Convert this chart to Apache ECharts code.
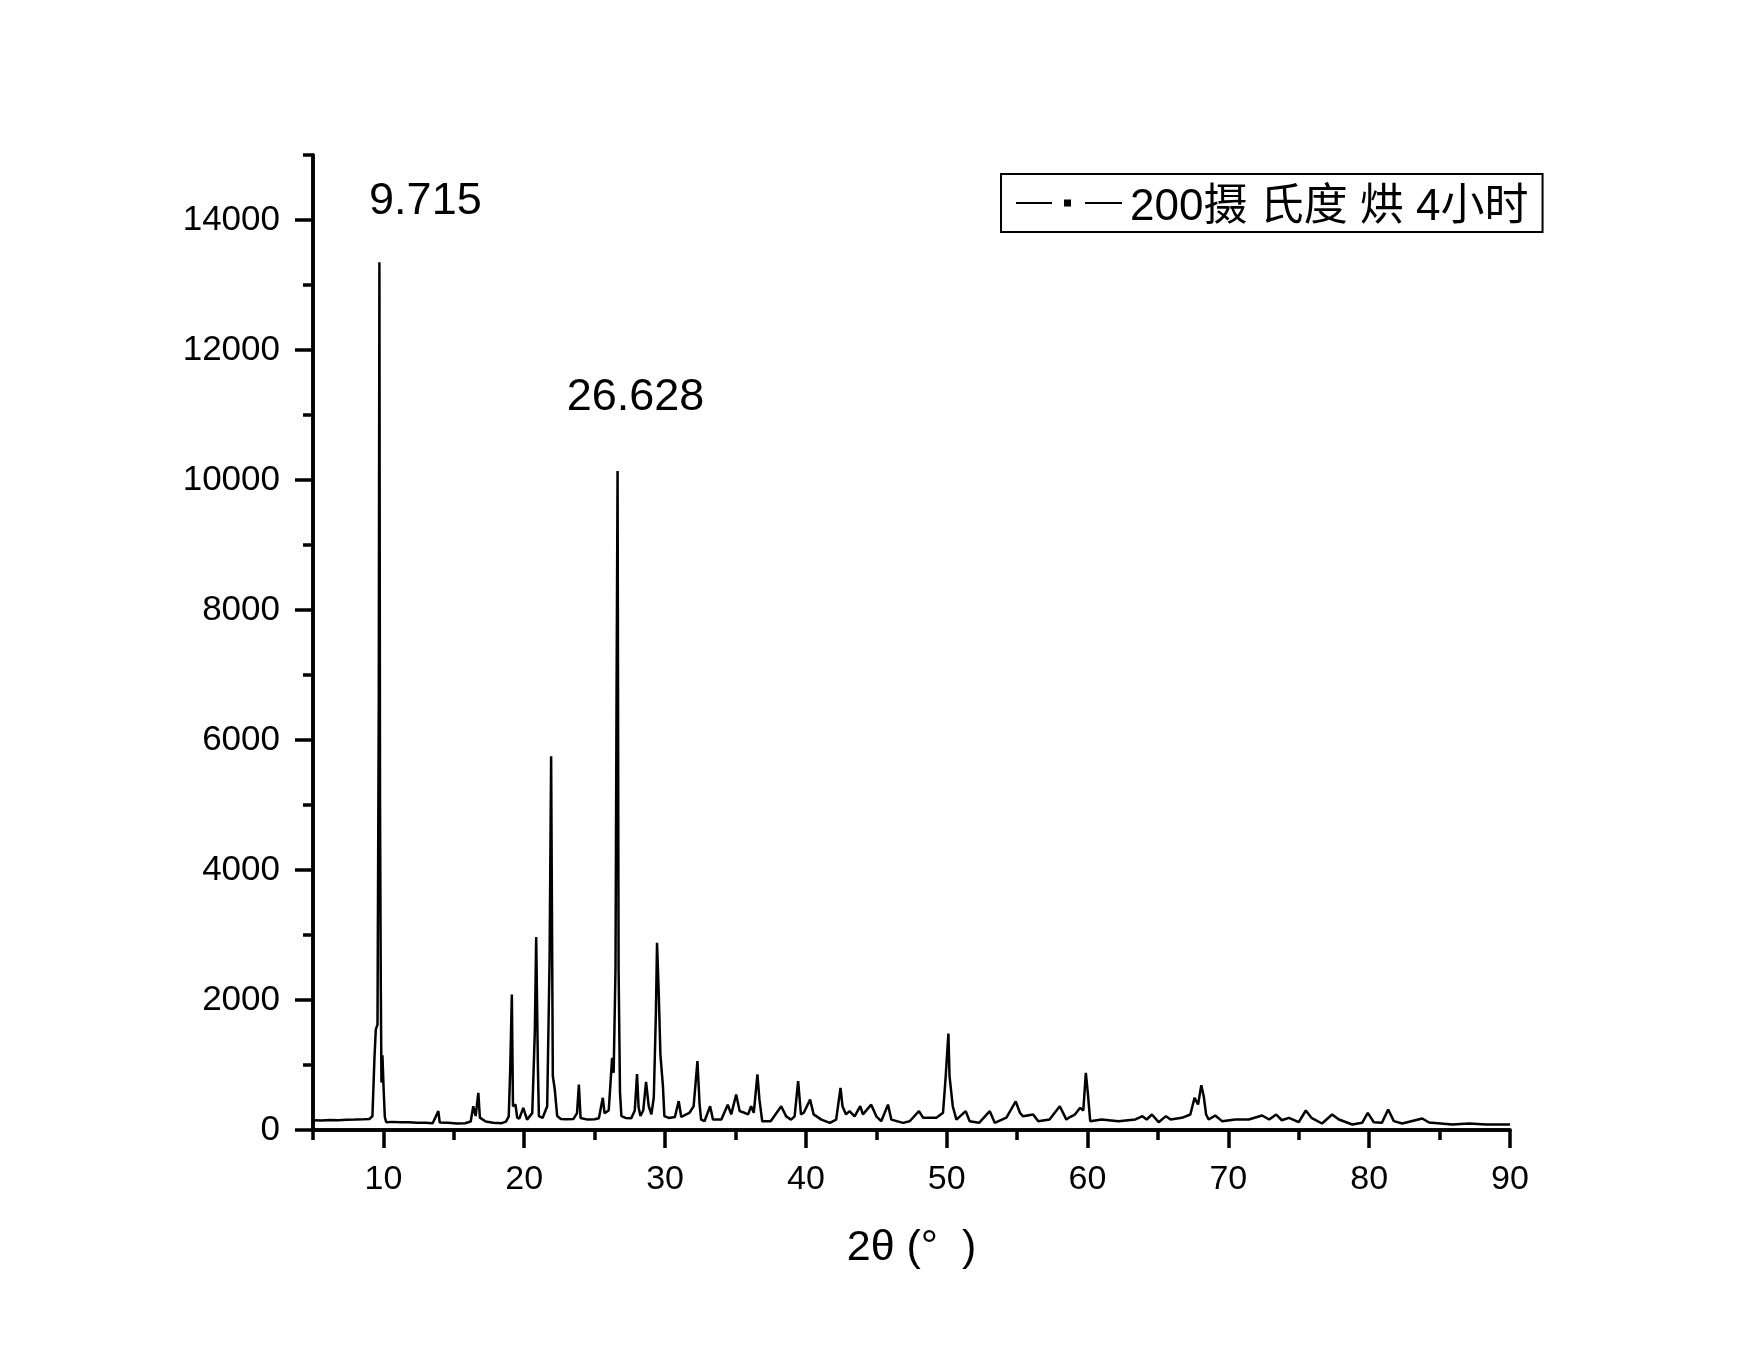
<!DOCTYPE html>
<html>
<head>
<meta charset="utf-8">
<title>XRD 200摄氏度烘4小时</title>
<script src="https://cdn.jsdelivr.net/npm/echarts@6.0.0/dist/echarts.min.js"></script>
<style>
  html, body { margin: 0; padding: 0; background: #fff; }
  #chart { width: 1755px; height: 1356px; }
</style>
</head>
<body>
<div id="chart"></div>
<script>
// [2θ (°), intensity]
const scan = [
  [5.0, 150], [5.6, 148], [6.2, 155], [6.8, 150], [7.4, 158], [8.0, 160], [8.6, 165], [9.0, 170],
  [9.22, 212], [9.36, 1085], [9.46, 1546], [9.58, 1620], [9.67, 6600], [9.715, 13350], [9.76, 5000],
  [9.81, 2370], [9.86, 730], [9.93, 1150], [9.97, 1150], [10.02, 600], [10.1, 200], [10.2, 120],
  [10.6, 125], [11.2, 118], [11.8, 120], [12.4, 112], [13.0, 110], [13.5, 105], [13.9, 290], [14.0, 115],
  [14.6, 110], [15.2, 100], [15.8, 105], [16.2, 130], [16.38, 366], [16.55, 215], [16.74, 572], [16.85, 190],
  [17.26, 130], [17.8, 110], [18.4, 105], [18.7, 130], [18.9, 210], [19.0, 900], [19.12, 2085], [19.2, 366],
  [19.38, 390], [19.5, 190], [19.65, 175], [19.93, 340], [20.2, 160], [20.57, 260], [20.75, 1500], [20.85, 2970],
  [20.97, 980], [21.04, 215], [21.3, 185], [21.63, 366], [21.8, 2623], [21.91, 5750], [22.03, 830], [22.17, 620],
  [22.34, 215], [22.6, 170], [23.0, 165], [23.5, 170], [23.75, 260], [23.88, 700], [24.0, 185], [24.5, 160],
  [25.0, 165], [25.3, 180], [25.58, 495], [25.7, 260], [26.0, 300], [26.24, 1110], [26.35, 880], [26.48, 2470],
  [26.55, 6400], [26.628, 10140], [26.7, 2470], [26.8, 570], [26.9, 215], [27.2, 185], [27.6, 180], [27.85, 300],
  [28.01, 860], [28.12, 350], [28.25, 215], [28.45, 300], [28.65, 740], [28.84, 366], [29.03, 240], [29.2, 500],
  [29.35, 1800], [29.43, 2880], [29.55, 2110], [29.67, 1160], [29.8, 1150], [29.85, 670], [29.95, 215], [30.26, 185],
  [30.7, 200], [30.97, 445], [31.15, 200], [31.5, 240], [31.73, 264], [32.03, 366], [32.3, 1060], [32.45, 400],
  [32.56, 160], [32.8, 135], [33.2, 366], [33.4, 160], [34.0, 160], [34.45, 390], [34.7, 240], [35.05, 546],
  [35.3, 290], [35.64, 265], [35.9, 240], [36.11, 366], [36.3, 265], [36.56, 854], [36.7, 470], [36.9, 135],
  [37.5, 135], [38.25, 366], [38.6, 210], [38.95, 160], [39.2, 210], [39.45, 751], [39.65, 240], [39.85, 265],
  [40.3, 467], [40.55, 240], [41.1, 160], [41.7, 110], [42.15, 160], [42.46, 649], [42.6, 366], [42.85, 240],
  [43.1, 290], [43.46, 210], [43.86, 366], [44.05, 240], [44.64, 390], [45.0, 210], [45.35, 135], [45.83, 390],
  [46.07, 160], [46.9, 110], [47.37, 135], [48.03, 290], [48.32, 190], [49.27, 190], [49.74, 265], [49.93, 828],
  [50.12, 1485], [50.2, 828], [50.43, 366], [50.69, 160], [51.35, 290], [51.63, 135], [52.3, 110], [53.06, 290],
  [53.41, 110], [54.24, 190], [54.9, 440], [55.2, 265], [55.42, 210], [56.14, 240], [56.5, 135], [57.3, 160],
  [58.03, 366], [58.5, 160], [58.65, 187], [59.1, 238], [59.48, 341], [59.7, 300], [59.88, 880], [60.02, 572],
  [60.19, 136], [61.0, 162], [62.2, 136], [63.4, 162], [63.9, 213], [64.2, 162], [64.57, 238], [65.05, 120],
  [65.57, 213], [65.9, 162], [66.7, 187], [67.3, 238], [67.6, 495], [67.85, 392], [68.08, 690], [68.25, 520],
  [68.42, 238], [68.6, 162], [69.07, 223], [69.55, 136], [70.5, 162], [71.45, 162], [72.4, 223], [72.9, 162],
  [73.4, 238], [73.8, 150], [74.3, 187], [75.0, 120], [75.5, 300], [75.9, 187], [76.65, 100], [77.37, 238],
  [77.85, 162], [78.8, 85], [79.5, 110], [79.9, 264], [80.33, 120], [80.9, 110], [81.35, 315], [81.75, 136],
  [82.35, 100], [83.77, 177], [84.25, 115], [85.9, 85], [87.1, 100], [88.3, 85], [90.0, 85]
];

const majorX = [10, 20, 30, 40, 50, 60, 70, 80, 90];
const minorX = [5, 15, 25, 35, 45, 55, 65, 75, 85];
const majorY = [0, 2000, 4000, 6000, 8000, 10000, 12000, 14000];
const minorY = [1000, 3000, 5000, 7000, 9000, 11000, 13000, 15000];

const peaks = [
  {angle: 9.715, intensity: 13350, text: '9.715'},
  {angle: 26.628, intensity: 10140, text: '26.628'}
];

const seriesName = '200摄 氏度 烘 4小时';
const font = "'Liberation Sans', Arial, 'Noto Sans CJK SC', sans-serif";
const black = '#000';

// line - square - line; the lone point at y=17 only pads the icon box so the text sits a little lower
const legendIcon = 'path://M0,2.5H36V4.5H0Z M48,0H55V7H48Z M69,2.5H106V4.5H69Z M53,17L53,17';

const chart = echarts.init(document.getElementById('chart'));

const baseX = {
  type: 'value', min: 5, max: 90, position: 'bottom',
  axisLine: {show: true, onZero: false, lineStyle: {color: black, width: 3.5}},
  splitLine: {show: false}
};
const baseY = {
  type: 'value', min: 0, max: 15000, position: 'left',
  axisLine: {show: true, onZero: false, lineStyle: {color: black, width: 3.5}},
  splitLine: {show: false}
};

const option = {
  animation: false,
  backgroundColor: '#fff',
  textStyle: {fontFamily: font, color: black},
  grid: {left: 313, right: 245, top: 155, bottom: 226, containLabel: false, outerBoundsMode: 'none'},
  legend: {
    left: 1001, top: 174,
    borderColor: black, borderWidth: 2,
    padding: [12, 14, 2, 15],
    itemWidth: 106, itemHeight: 17,
    textStyle: {fontSize: 44, color: black, fontFamily: font, padding: [0, 0, 0, 3]},
    data: [{name: seriesName, icon: legendIcon}]
  },
  xAxis: [
    Object.assign({}, baseX, {
      axisTick: {show: true, customValues: majorX, length: 18, lineStyle: {color: black, width: 3.5}},
      axisLabel: {customValues: majorX, color: black, fontSize: 34, margin: 33, fontFamily: font},
      name: '2θ (°  )', nameLocation: 'middle', nameGap: 97,
      nameTextStyle: {fontSize: 43, color: black, fontFamily: font}
    }),
    Object.assign({}, baseX, {
      axisTick: {show: true, customValues: minorX, length: 10, lineStyle: {color: black, width: 3.5}},
      axisLabel: {show: false}
    })
  ],
  yAxis: [
    Object.assign({}, baseY, {
      axisTick: {show: true, customValues: majorY, length: 18, lineStyle: {color: black, width: 3.5}},
      axisLabel: {customValues: majorY, color: black, fontSize: 35, margin: 33, fontFamily: font,
        formatter: v => String(v)}
    }),
    Object.assign({}, baseY, {
      axisTick: {show: true, customValues: minorY, length: 10, lineStyle: {color: black, width: 3.5}},
      axisLabel: {show: false}
    })
  ],
  series: [
    {
      name: seriesName,
      type: 'line',
      xAxisIndex: 0,
      yAxisIndex: 0,
      data: scan,
      showSymbol: false,
      symbol: 'none',
      itemStyle: {color: black, borderWidth: 0},
      lineStyle: {color: black, width: 2.5},
      markPoint: {
        symbol: 'circle',
        symbolSize: 0,
        silent: true,
        label: {show: true, position: 'top', formatter: '{c}', fontSize: 45, color: black, fontFamily: font},
        data: [
          {coord: [peaks[0].angle, peaks[0].intensity], value: peaks[0].text, label: {distance: 38, offset: [46, 0]}},
          {coord: [peaks[1].angle, peaks[1].intensity], value: peaks[1].text, label: {distance: 51, offset: [18, 0]}}
        ]
      }
    }
  ]
};

chart.setOption(option);
</script>
</body>
</html>
